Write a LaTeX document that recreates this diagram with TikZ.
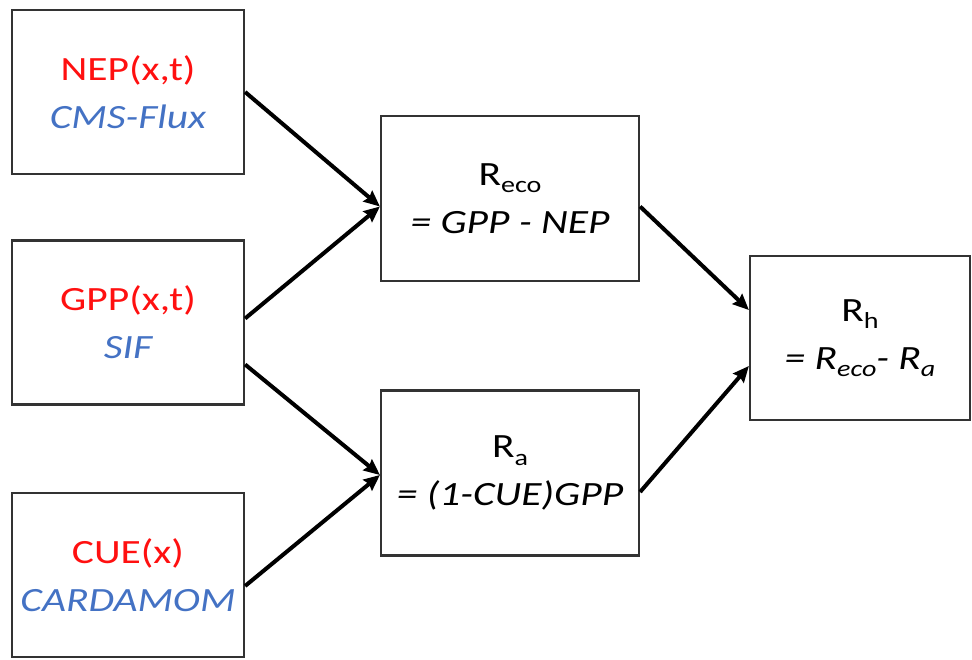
\documentclass[tikz,border=0pt]{standalone}
\usepackage{fontspec}
\setmainfont[FakeStretch=1.22]{Carlito}
\usetikzlibrary{arrows.meta}
\definecolor{tred}{HTML}{FF1010}
\definecolor{tblue}{HTML}{4472C4}
\definecolor{edgegray}{HTML}{333333}
\newcommand{\sbs}[1]{\raisebox{-0.22em}{\fontsize{23}{23}\selectfont #1}}
\begin{document}
\begin{tikzpicture}[x=1pt,y=-1pt,
  box/.style={draw=edgegray, line width=2.2pt, inner sep=0pt, align=center,
    font=\fontsize{34}{48}\selectfont},
  inbox/.style={box, minimum width=232pt, minimum height=164pt},
  midbox/.style={box, minimum width=258pt, minimum height=165pt},
  outbox/.style={box, minimum width=220pt, minimum height=164pt},
  conn/.style={-{Stealth[length=16pt,width=14pt,inset=2pt]}, line width=4pt, black}]
\useasboundingbox (0,0) rectangle (972,660);
\node[inbox] (nep) at (128,92) {\textcolor{tred}{NEP(x,t)}\\\textcolor{tblue}{\itshape CMS-Flux}};
\node[inbox] (gpp) at (128,322.5) {\textcolor{tred}{GPP(x,t)}\\\textcolor{tblue}{\itshape SIF}};
\node[inbox] (cue) at (128,575) {\textcolor{tred}{CUE(x)}\\\textcolor{tblue}{\itshape CARDAMOM}};
\node[midbox] (reco) at (510,198.5) {R\sbs{eco}\\\textit{= GPP - NEP}};
\node[midbox] (ra) at (510,473) {R\sbs{a}\\\textit{= (1-CUE)GPP}};
\node[outbox] (rh) at (860,338) {R\sbs{h}\\\textit{= R\sbs{eco}- R\sbs{a}}};
\draw[conn] (nep.east) -- ([yshift=-8pt]reco.west);
\draw[conn] ([yshift=4pt]gpp.east) -- ([yshift=-8pt]reco.west);
\draw[conn] ([yshift=-42pt]gpp.east) -- ([yshift=-2pt]ra.west);
\draw[conn] ([yshift=-11pt]cue.east) -- ([yshift=-2pt]ra.west);
\draw[conn] ([yshift=-8pt]reco.east) -- ([yshift=28pt]rh.west);
\draw[conn] ([yshift=-19pt]ra.east) -- ([yshift=-28pt]rh.west);
\end{tikzpicture}
\end{document}
